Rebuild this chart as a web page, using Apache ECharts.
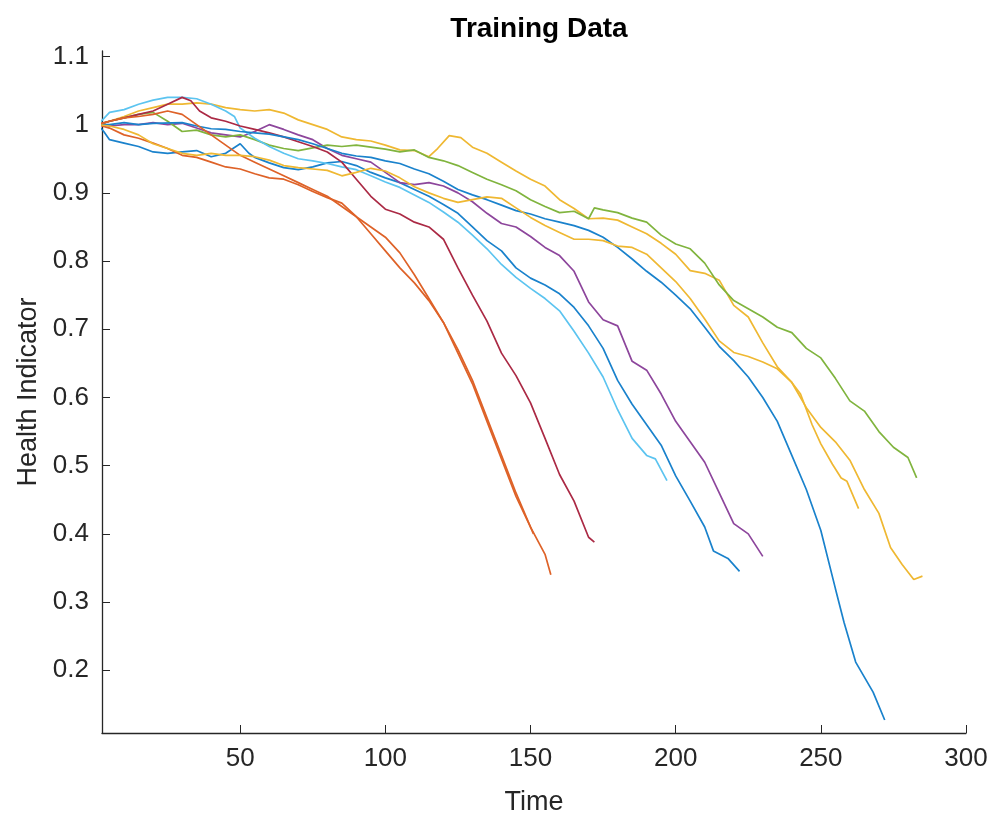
<!DOCTYPE html>
<html>
<head>
<meta charset="utf-8">
<title>Training Data</title>
<script src="https://cdn.jsdelivr.net/npm/echarts@6/dist/echarts.min.js"></script>
<style>
  html, body { margin: 0; padding: 0; background: #fff; }
  #chart { width: 988px; height: 813px; }
</style>
</head>
<body>
<div id="chart"></div>
<script>
// health indicator per unit, [time, value]
var blueA = [[1,1.0],[3,0.99],[5,0.978],[10,0.973],[15,0.968],[20,0.96],[25,0.958],[30,0.96],[35,0.962],[40,0.953],[45,0.958],[50,0.972],[53,0.958],[55,0.952],[60,0.944],[65,0.937],[70,0.934],[75,0.938],[80,0.944],[85,0.946],[90,0.94],[95,0.93],[100,0.922],[105,0.915],[110,0.905],[115,0.895],[120,0.883],[125,0.87],[130,0.85],[135,0.83],[140,0.815],[145,0.79],[150,0.775],[155,0.765],[160,0.752],[165,0.732],[170,0.705],[175,0.672],[180,0.625],[185,0.59],[190,0.56],[195,0.53],[200,0.485],[205,0.448],[210,0.41],[213,0.375],[218,0.364],[222,0.345]];
var orangeA = [[1,1.0],[5,0.995],[10,0.985],[15,0.98],[20,0.973],[25,0.965],[30,0.955],[35,0.952],[40,0.945],[45,0.938],[50,0.935],[55,0.928],[60,0.922],[65,0.92],[70,0.912],[75,0.902],[80,0.893],[85,0.885],[90,0.865],[95,0.84],[100,0.815],[105,0.79],[110,0.768],[115,0.742],[120,0.71],[125,0.665],[130,0.62],[135,0.565],[140,0.51],[145,0.455],[150,0.41],[155,0.37],[157,0.34]];
var yellowA = [[1,1.0],[5,1.005],[10,1.012],[15,1.02],[20,1.025],[25,1.03],[30,1.03],[35,1.032],[40,1.03],[45,1.025],[50,1.022],[55,1.02],[60,1.022],[65,1.017],[70,1.007],[75,1.0],[80,0.993],[85,0.982],[90,0.978],[95,0.976],[100,0.97],[105,0.963],[110,0.962],[115,0.953],[118,0.965],[122,0.984],[126,0.981],[130,0.967],[135,0.958],[140,0.945],[145,0.932],[150,0.92],[155,0.91],[160,0.89],[165,0.877],[170,0.862],[175,0.863],[180,0.86],[185,0.85],[190,0.84],[195,0.826],[200,0.81],[205,0.786],[210,0.782],[215,0.772],[220,0.735],[225,0.718],[230,0.68],[235,0.645],[240,0.622],[245,0.585],[250,0.556],[255,0.535],[260,0.508],[265,0.465],[270,0.43],[274,0.38],[278,0.355],[282,0.333],[285,0.338]];
var purple = [[1,1.0],[5,0.998],[10,1.0],[15,1.0],[20,1.003],[25,1.0],[30,1.002],[35,0.995],[40,0.988],[45,0.985],[50,0.982],[55,0.99],[60,1.0],[65,0.993],[70,0.985],[75,0.978],[80,0.965],[85,0.955],[90,0.95],[95,0.945],[100,0.93],[105,0.915],[110,0.912],[115,0.915],[120,0.91],[125,0.9],[130,0.887],[135,0.87],[140,0.855],[145,0.85],[150,0.836],[155,0.82],[160,0.808],[165,0.785],[170,0.74],[175,0.714],[180,0.705],[185,0.653],[190,0.64],[195,0.605],[200,0.565],[205,0.535],[210,0.505],[215,0.46],[220,0.415],[225,0.4],[230,0.367]];
var green = [[1,1.0],[5,1.005],[10,1.01],[15,1.015],[20,1.018],[25,1.005],[30,0.99],[35,0.992],[40,0.985],[45,0.982],[50,0.985],[55,0.978],[60,0.97],[65,0.965],[70,0.962],[75,0.966],[80,0.97],[85,0.968],[90,0.97],[95,0.967],[100,0.964],[105,0.96],[110,0.963],[115,0.952],[120,0.947],[125,0.94],[130,0.93],[135,0.92],[140,0.912],[145,0.903],[150,0.89],[155,0.88],[160,0.871],[165,0.873],[170,0.862],[172,0.878],[175,0.875],[180,0.871],[185,0.863],[190,0.857],[195,0.838],[200,0.825],[205,0.818],[210,0.797],[215,0.765],[220,0.742],[225,0.73],[230,0.718],[235,0.703],[240,0.695],[245,0.672],[250,0.658],[255,0.628],[260,0.595],[265,0.58],[270,0.55],[275,0.527],[280,0.512],[283,0.482]];
var lightBlue = [[1,1.0],[5,1.018],[10,1.022],[15,1.03],[20,1.036],[25,1.04],[30,1.04],[35,1.038],[40,1.03],[45,1.02],[48,1.012],[50,0.995],[55,0.98],[60,0.968],[65,0.958],[70,0.95],[75,0.947],[80,0.943],[85,0.938],[90,0.934],[95,0.925],[100,0.916],[105,0.908],[110,0.897],[115,0.886],[120,0.872],[125,0.857],[130,0.838],[135,0.818],[140,0.795],[145,0.776],[150,0.76],[155,0.745],[160,0.727],[165,0.697],[170,0.665],[175,0.63],[180,0.582],[185,0.54],[190,0.515],[193,0.51],[197,0.478]];
var darkRed = [[1,1.0],[5,1.005],[10,1.01],[15,1.015],[20,1.02],[25,1.03],[30,1.04],[33,1.035],[36,1.02],[40,1.01],[45,1.005],[50,0.998],[55,0.993],[60,0.988],[65,0.982],[70,0.975],[75,0.968],[80,0.96],[85,0.945],[90,0.92],[95,0.895],[100,0.876],[105,0.869],[110,0.857],[115,0.85],[120,0.832],[125,0.79],[130,0.75],[135,0.712],[140,0.665],[145,0.632],[150,0.592],[155,0.54],[160,0.487],[165,0.448],[170,0.395],[172,0.388]];
var blueB = [[1,1.0],[5,1.0],[10,1.003],[15,1.0],[20,1.002],[30,1.003],[35,0.998],[40,0.994],[45,0.993],[50,0.99],[55,0.988],[60,0.986],[65,0.982],[70,0.978],[75,0.972],[80,0.965],[85,0.958],[90,0.954],[95,0.952],[100,0.947],[105,0.943],[110,0.935],[115,0.928],[120,0.917],[125,0.905],[130,0.897],[135,0.89],[140,0.882],[145,0.874],[150,0.869],[155,0.862],[160,0.857],[165,0.852],[170,0.845],[175,0.835],[180,0.82],[185,0.803],[190,0.785],[195,0.769],[200,0.75],[205,0.73],[210,0.703],[215,0.675],[220,0.654],[225,0.63],[230,0.6],[235,0.565],[240,0.515],[245,0.465],[250,0.405],[255,0.32],[258,0.27],[262,0.212],[265,0.19],[268,0.168],[272,0.127]];
var orangeB = [[1,1.0],[5,1.005],[10,1.01],[15,1.012],[20,1.015],[25,1.02],[30,1.015],[35,1.0],[40,0.985],[45,0.97],[50,0.955],[55,0.945],[60,0.935],[65,0.925],[70,0.915],[75,0.905],[80,0.895],[85,0.88],[90,0.865],[95,0.85],[100,0.835],[105,0.812],[110,0.78],[115,0.745],[120,0.71],[125,0.67],[130,0.625],[135,0.57],[140,0.515],[145,0.46],[151,0.40]];
var yellowB = [[1,1.0],[5,0.998],[10,0.993],[15,0.985],[20,0.972],[25,0.965],[30,0.958],[35,0.955],[40,0.958],[45,0.955],[50,0.955],[55,0.953],[60,0.948],[65,0.94],[70,0.937],[75,0.935],[80,0.933],[85,0.925],[90,0.93],[95,0.936],[100,0.932],[105,0.922],[110,0.909],[115,0.9],[120,0.892],[125,0.886],[130,0.89],[135,0.894],[140,0.892],[145,0.878],[150,0.864],[155,0.852],[160,0.842],[165,0.832],[170,0.832],[175,0.83],[180,0.822],[185,0.82],[190,0.81],[195,0.79],[200,0.77],[205,0.745],[210,0.715],[215,0.683],[220,0.666],[225,0.66],[230,0.652],[235,0.642],[240,0.622],[243,0.605],[247,0.56],[250,0.532],[254,0.502],[257,0.482],[259,0.477],[263,0.437]];

var xTicks = [50, 100, 150, 200, 250, 300];
var yTicks = [0.2, 0.3, 0.4, 0.5, 0.6, 0.7, 0.8, 0.9, 1, 1.1];

// matlab colour order, a touch lighter like the antialiased picture
var colors = ['#1a82cc', '#de6228', '#efb832', '#8d469c', '#80b43e', '#5cc4f0', '#ab2a45'];
var units = [blueA, orangeA, yellowA, purple, green, lightBlue, darkRed, blueB, orangeB, yellowB];

var myChart = echarts.init(document.getElementById('chart'));
var axisColor = '#262626';
var font = 'Liberation Sans, Arial, Helvetica, sans-serif';

myChart.setOption({
  animation: false,
  backgroundColor: '#fff',
  title: {
    text: 'Training Data',
    left: 534,
    textAlign: 'center',
    top: 10,
    textStyle: { fontFamily: font, fontWeight: 'bold', fontSize: 28, color: '#000' }
  },
  grid: { left: 102, right: 22, top: 51, bottom: 80, outerBoundsMode: 'none' },
  xAxis: {
    type: 'value',
    min: 2.4,
    max: 300,
    name: 'Time',
    nameLocation: 'middle',
    nameGap: 56,
    nameTextStyle: { fontFamily: font, fontSize: 27, color: axisColor },
    axisLine: { lineStyle: { color: axisColor, width: 1.3 } },
    axisTick: { inside: true, length: 8, customValues: xTicks, lineStyle: { color: axisColor } },
    axisLabel: { customValues: xTicks, margin: 13, fontFamily: font, fontSize: 26, color: axisColor },
    splitLine: { show: false }
  },
  yAxis: {
    type: 'value',
    min: 0.108,
    max: 1.108,
    name: 'Health Indicator',
    nameLocation: 'middle',
    nameGap: 57,
    nameTextStyle: { fontFamily: font, fontSize: 27, color: axisColor },
    axisLine: { show: true, lineStyle: { color: axisColor, width: 1.3 } },
    axisTick: { show: true, inside: true, length: 8, customValues: yTicks, lineStyle: { color: axisColor } },
    axisLabel: { customValues: yTicks, margin: 13, fontFamily: font, fontSize: 26, color: axisColor },
    splitLine: { show: false }
  },
  series: units.map(function (u, i) {
    return {
      type: 'line',
      data: u,
      showSymbol: false,
      clip: true,
      lineStyle: { width: 1.7, color: colors[i % colors.length] }
    };
  })
});
</script>
</body>
</html>
